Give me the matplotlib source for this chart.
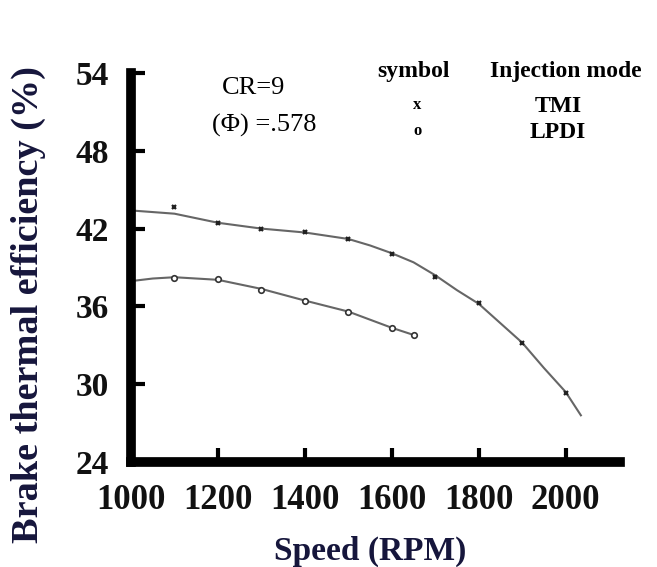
import matplotlib
matplotlib.use("Agg")
import matplotlib.pyplot as plt

# data
speed_tmi = [1100, 1200, 1300, 1400, 1500, 1600, 1700, 1800, 1900, 2000]
bte_tmi = [43.7, 42.4, 42.0, 41.75, 41.2, 40.05, 38.3, 36.25, 33.15, 29.3]
speed_lpdi = [1100, 1200, 1300, 1400, 1500, 1600, 1650]
bte_lpdi = [38.2, 38.1, 37.3, 36.4, 35.6, 34.3, 33.8]

# drawn curves (hand-faired lines in the source figure)
curve_tmi_x = [1000, 1100, 1200, 1300, 1400, 1500, 1550, 1600, 1650, 1700,
               1750, 1800, 1850, 1900, 1950, 2000, 2035]
curve_tmi_y = [43.4, 43.15, 42.45, 42.0, 41.7, 41.2, 40.7, 40.1, 39.4, 38.4,
               37.25, 36.2, 34.7, 33.2, 31.25, 29.4, 27.6]
curve_lpdi_x = [1000, 1050, 1100, 1200, 1300, 1400, 1500, 1600, 1650]
curve_lpdi_y = [37.95, 38.15, 38.25, 38.05, 37.35, 36.45, 35.6, 34.35, 33.8]

x_ticks = [1000, 1200, 1400, 1600, 1800, 2000]
y_ticks = [24, 30, 36, 42, 48, 54]

serif = "Liberation Serif"
label_color = "#16163c"

fig = plt.figure(figsize=(6.57, 5.67), dpi=100)
ax = fig.add_axes([131 / 657, 105 / 567, 489 / 657, 389 / 567])

ax.plot(curve_tmi_x, curve_tmi_y, color="#666666", lw=1.5)
ax.plot(curve_lpdi_x, curve_lpdi_y, color="#666666", lw=1.5)
ax.plot(speed_tmi, bte_tmi, ls="none", marker="x", ms=3.5, mew=1.6, color="#222222")
ax.plot(speed_lpdi, bte_lpdi, ls="none", marker="o", ms=4, mew=1.2,
        mfc="white", mec="#333333")

ax.set_xlim(1000, 2125)
ax.set_ylim(24, 54)
ax.set_xticks(x_ticks)
ax.set_yticks(y_ticks)

for side in ["top", "right"]:
    ax.spines[side].set_visible(False)
for side in ["left", "bottom"]:
    ax.spines[side].set_linewidth(7)
    ax.spines[side].set_capstyle("projecting")

ax.tick_params(axis="both", direction="in", length=10, width=3, color="black")
ax.tick_params(axis="y", pad=16, labelsize=24)
ax.tick_params(axis="x", pad=16, labelsize=25)
for lab in ax.get_xticklabels() + ax.get_yticklabels():
    lab.set_fontfamily(serif)
    lab.set_fontweight("bold")
    lab.set_color("#111111")

ax.set_xlabel("Speed (RPM)", fontfamily=serif, fontweight="bold", fontsize=24,
              color=label_color, va="center")
ax.xaxis.set_label_coords(0.49, -0.231)
ax.set_ylabel("Brake thermal efficiency (%)", fontfamily=serif, fontweight="bold",
              fontsize=27.5, color=label_color, va="center")
ax.yaxis.set_label_coords(-0.209, 0.405)

# annotations (figure pixel positions from the top-left)
def ftext(px, py, s, **kw):
    fig.text(px / 657, 1 - py / 567, s, ha="center", va="center",
             fontfamily=serif, **kw)

ftext(254, 88, "CR=9", fontsize=19)
ftext(264, 125, "(\u03a6) =.578", fontsize=19)
ftext(414, 72, "symbol", fontsize=17, fontweight="bold")
ftext(566, 72, "Injection mode", fontsize=17, fontweight="bold")
ftext(417, 105, "x", fontsize=12, fontweight="bold")
ftext(558, 106, "TMI", fontsize=17, fontweight="bold")
ftext(417, 131, "o", fontsize=12, fontweight="bold")
ftext(558, 132, "LPDI", fontsize=17, fontweight="bold")

fig.savefig("out.png", dpi=100)
